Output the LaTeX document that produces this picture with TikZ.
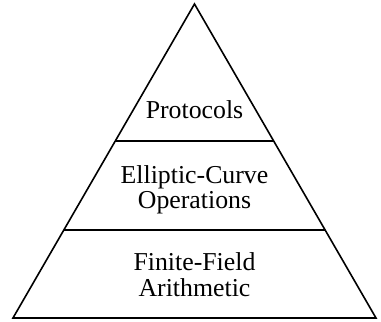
\documentclass[tikz,border=0pt]{standalone}
\usepackage{fontspec}
\setmainfont{Liberation Serif}
\usetikzlibrary{calc}
\tikzset{
    layer/.style = {
        align           = center,
        inner sep       = 0pt,
        font            = \fontsize{12.9}{12.8}\selectfont,
    },
    edge/.style = {
        draw            = black,
        line width      = 0.8pt,
    }
}

\begin{document}
\begin{tikzpicture}
  \useasboundingbox (0,0) rectangle (6.696,5.659);

  % Pyramid
  \coordinate (Left) at (0.228,0.070);
  \coordinate (Right) at (6.608,0.070);
  \coordinate (Top) at (3.418,5.589);

  \draw[edge,line join=miter] (Left) -- (Right) -- (Top) -- cycle;

  % Layer borders
  \coordinate (UpperLeft) at ($(Left)!0.5637!(Top)$);
  \coordinate (UpperRight) at ($(Right)!0.5637!(Top)$);
  \coordinate (LowerLeft) at ($(Left)!0.2803!(Top)$);
  \coordinate (LowerRight) at ($(Right)!0.2803!(Top)$);

  \draw[edge] (UpperLeft) to (UpperRight);
  \draw[edge] (LowerLeft) to (LowerRight);

  % Layers
  \node[layer,anchor=base] (Protocols) at (3.418,3.585) {Protocols};
  \node[layer] (CurveOps) at (3.418,2.32) {Elliptic-Curve\\Operations};
  \node[layer] (FieldArith) at (3.418,0.83) {Finite-Field\\Arithmetic};

\end{tikzpicture}
\end{document}
